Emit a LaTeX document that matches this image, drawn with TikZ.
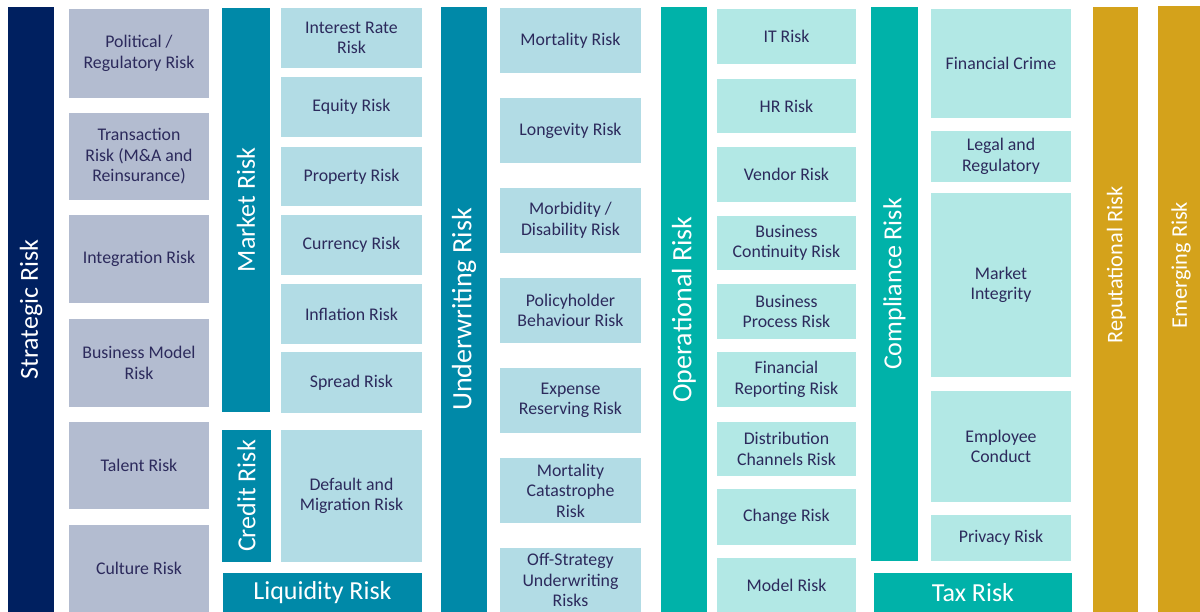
\documentclass[tikz,border=0pt]{standalone}
\usepackage{fontspec}
\setmainfont{Carlito}
\definecolor{navyrisk}{HTML}{002060}
\definecolor{bluerisk}{HTML}{0089A8}
\definecolor{tealrisk}{HTML}{00B2A9}
\definecolor{goldrisk}{HTML}{D4A21B}
\definecolor{greysub}{HTML}{B3BCD0}
\definecolor{bluesub}{HTML}{B2DCE5}
\definecolor{tealsub}{HTML}{B2E8E5}
\definecolor{inkrisk}{HTML}{2C2A5C}
\begin{document}
\begin{tikzpicture}[x=1pt,y=-1pt,
  bar/.style={fill=#1,text=white,rotate=90,inner sep=0pt,font=\fontsize{26pt}{30pt}\selectfont},
  bartext/.style={text=white,rotate=90,inner sep=0pt,font=\fontsize{22.3pt}{26pt}\selectfont},
  flat/.style={fill=#1,text=white,inner sep=0pt,font=\fontsize{26pt}{30pt}\selectfont},
  sub/.style={fill=#1,text=inkrisk,align=center,inner sep=0pt,font=\fontsize{17.8pt}{20.5pt}\selectfont}]
  \useasboundingbox[fill=white] (0,0) rectangle (1200,612);

  % strategic risk
  \node[bar=navyrisk,minimum width=605pt,minimum height=46pt] (strategic) at (31,309.5) {Strategic Risk};
  \node[sub=greysub,minimum width=140pt,minimum height=89pt] (political) at (139,53.5) {Political /\\Regulatory Risk};
  \node[sub=greysub,minimum width=140pt,minimum height=87pt] (transaction) at (139,156.5) {Transaction\\Risk (M\&A and\\Reinsurance)};
  \node[sub=greysub,minimum width=140pt,minimum height=88pt] (integration) at (139,259) {Integration Risk};
  \node[sub=greysub,minimum width=140pt,minimum height=88pt] (busmodel) at (139,363) {Business Model\\Risk};
  \node[sub=greysub,minimum width=140pt,minimum height=87pt] (talent) at (139,465.5) {Talent Risk};
  \node[sub=greysub,minimum width=140pt,minimum height=87pt] (culture) at (139,568.5) {Culture Risk};

  % market, credit and liquidity risk
  \node[bar=bluerisk,minimum width=404pt,minimum height=48pt] (market) at (246,210) {Market Risk};
  \node[bar=bluerisk,minimum width=132pt,minimum height=49pt] (credit) at (246.5,496) {Credit Risk};
  \node[flat=bluerisk,minimum width=199pt,minimum height=39pt] (liquidity) at (322.5,592.5) {Liquidity Risk};
  \node[sub=bluesub,minimum width=141pt,minimum height=60pt] (interest) at (351.5,38) {Interest Rate\\Risk};
  \node[sub=bluesub,minimum width=141pt,minimum height=60pt] (equity) at (351.5,107) {Equity Risk};
  \node[sub=bluesub,minimum width=141pt,minimum height=59pt] (property) at (351.5,176.5) {Property Risk};
  \node[sub=bluesub,minimum width=141pt,minimum height=60pt] (currency) at (351.5,245) {Currency Risk};
  \node[sub=bluesub,minimum width=141pt,minimum height=60pt] (inflation) at (351.5,314) {Inflation Risk};
  \node[sub=bluesub,minimum width=141pt,minimum height=61pt] (spread) at (351.5,382.5) {Spread Risk};
  \node[sub=bluesub,minimum width=141pt,minimum height=132pt] (default) at (351.5,496) {Default and\\Migration Risk};

  % underwriting risk
  \node[bar=bluerisk,minimum width=605pt,minimum height=46pt,font=\fontsize{28pt}{32pt}\selectfont] (underwriting) at (464,309.5) {Underwriting Risk};
  \node[sub=bluesub,minimum width=141pt,minimum height=65pt] (mortality) at (570.5,40.5) {Mortality Risk};
  \node[sub=bluesub,minimum width=141pt,minimum height=65pt] (longevity) at (570.5,130.5) {Longevity Risk};
  \node[sub=bluesub,minimum width=141pt,minimum height=65pt] (morbidity) at (570.5,220.5) {Morbidity /\\Disability Risk};
  \node[sub=bluesub,minimum width=141pt,minimum height=65pt] (policyholder) at (570.5,310.5) {Policyholder\\Behaviour Risk};
  \node[sub=bluesub,minimum width=141pt,minimum height=65pt] (expense) at (570.5,400.5) {Expense\\Reserving Risk};
  \node[sub=bluesub,minimum width=141pt,minimum height=65pt] (catastrophe) at (570.5,490.5) {Mortality\\Catastrophe\\Risk};
  \node[sub=bluesub,minimum width=141pt,minimum height=64pt] (offstrategy) at (570.5,580) {Off-Strategy\\Underwriting\\Risks};

  % operational risk
  \node[bar=tealrisk,minimum width=605pt,minimum height=46pt,font=\fontsize{28pt}{32pt}\selectfont] (operational) at (684,309.5) {Operational Risk};
  \node[sub=tealsub,minimum width=139pt,minimum height=55pt] (itrisk) at (786.5,36.5) {IT Risk};
  \node[sub=tealsub,minimum width=139pt,minimum height=54pt] (hrrisk) at (786.5,106) {HR Risk};
  \node[sub=tealsub,minimum width=139pt,minimum height=55pt] (vendor) at (786.5,174.5) {Vendor Risk};
  \node[sub=tealsub,minimum width=139pt,minimum height=54pt] (continuity) at (786.5,243) {Business\\Continuity Risk};
  \node[sub=tealsub,minimum width=139pt,minimum height=55pt] (process) at (786.5,311.5) {Business\\Process Risk};
  \node[sub=tealsub,minimum width=139pt,minimum height=55pt] (reporting) at (786.5,379.5) {Financial\\Reporting Risk};
  \node[sub=tealsub,minimum width=139pt,minimum height=54pt] (distribution) at (786.5,449) {Distribution\\Channels Risk};
  \node[sub=tealsub,minimum width=139pt,minimum height=56pt] (change) at (786.5,517) {Change Risk};
  \node[sub=tealsub,minimum width=139pt,minimum height=54pt] (modelrisk) at (786.5,585) {Model Risk};

  % compliance and tax risk
  \node[bar=tealrisk,minimum width=554pt,minimum height=47pt] (compliance) at (894.5,284) {Compliance Risk};
  \node[flat=tealrisk,minimum width=198pt,minimum height=39pt] (tax) at (973,592.5) {Tax Risk};
  \node[sub=tealsub,minimum width=140pt,minimum height=109pt] (crime) at (1001,63.5) {Financial Crime};
  \node[sub=tealsub,minimum width=140pt,minimum height=51pt] (legal) at (1001,156.5) {Legal and\\Regulatory};
  \node[sub=tealsub,minimum width=140pt,minimum height=184pt] (integrity) at (1001,285) {Market\\Integrity};
  \node[sub=tealsub,minimum width=140pt,minimum height=111pt] (conduct) at (1001,446.5) {Employee\\Conduct};
  \node[sub=tealsub,minimum width=140pt,minimum height=46pt] (privacy) at (1001,538) {Privacy Risk};

  % reputational and emerging risk
  \node[bar=goldrisk,minimum width=605pt,minimum height=45pt] (reputational) at (1115.5,309.5) {};
  \node[bartext] (reputational text) at (1116.5,265) {Reputational Risk};
  \node[bar=goldrisk,minimum width=606pt,minimum height=42pt] (emerging) at (1179,309) {};
  \node[bartext] (emerging text) at (1181,265) {Emerging Risk};
\end{tikzpicture}
\end{document}
